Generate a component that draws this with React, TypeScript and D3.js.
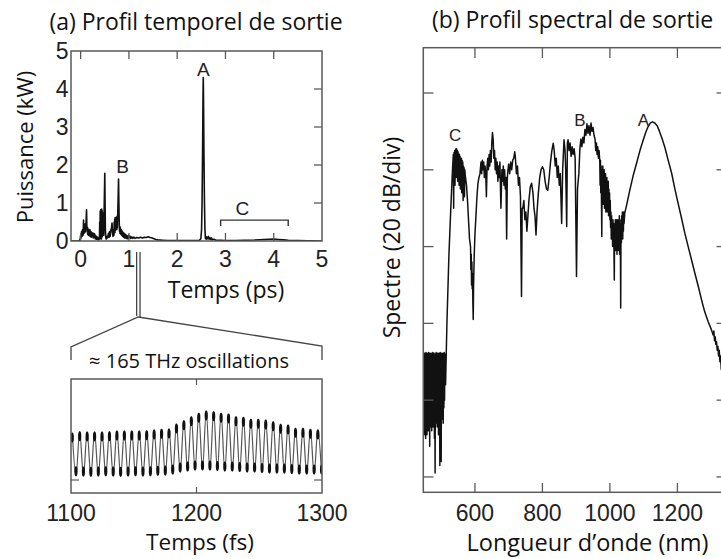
import React from 'react';
import * as d3 from 'd3';

// ---------- Panel (a): temporal profile (t in ps, P in kW) ----------
const temporalProfile: [number, number][] = [
  [-0.2, 0], [-0.03, 0], [-0.01, 0.05], [0.0, 0.15], [0.01, 0.08], [0.02, 0.25], [0.03, 0.12], [0.04, 0.3], [0.05, 0.15],
  [0.06, 0.55], [0.065, 0.2], [0.075, 0.38], [0.085, 0.22], [0.095, 0.45], [0.105, 0.25], [0.115, 0.6], [0.122, 0.82],
  [0.13, 0.3], [0.14, 0.36], [0.145, 0.18], [0.155, 0.32], [0.16, 0.15], [0.17, 0.28], [0.18, 0.14], [0.19, 0.3],
  [0.2, 0.12], [0.21, 0.25], [0.22, 0.1], [0.23, 0.22], [0.24, 0.12], [0.25, 0.2], [0.26, 0.08], [0.27, 0.2], [0.28, 0.1],
  [0.29, 0.18], [0.3, 0.06], [0.31, 0.14], [0.32, 0.05], [0.33, 0.12], [0.34, 0.04], [0.355, 0.1], [0.37, 0.03],
  [0.38, 0.08], [0.39, 0.05], [0.395, 0.5], [0.4, 0.1], [0.405, 0.78], [0.41, 0.06], [0.415, 0.82], [0.42, 0.08],
  [0.425, 0.8], [0.43, 0.05], [0.435, 0.84], [0.44, 0.1], [0.445, 0.8], [0.45, 0.12], [0.455, 0.75], [0.46, 0.2],
  [0.47, 0.55], [0.478, 0.15], [0.485, 0.7], [0.492, 1.2], [0.5, 1.78], [0.507, 0.9], [0.512, 0.3], [0.52, 0.1],
  [0.53, 0.05], [0.545, 0.12], [0.56, 0.08], [0.575, 0.2], [0.59, 0.1], [0.6, 0.25], [0.61, 0.12], [0.625, 0.28],
  [0.64, 0.35], [0.65, 0.47], [0.66, 0.2], [0.67, 0.12], [0.68, 0.3], [0.69, 0.15], [0.695, 0.5], [0.7, 0.25],
  [0.705, 0.58], [0.71, 0.22], [0.715, 0.62], [0.72, 0.28], [0.725, 0.6], [0.73, 0.3], [0.735, 0.62], [0.74, 0.35],
  [0.745, 0.58], [0.75, 0.3], [0.755, 0.65], [0.76, 0.35], [0.768, 0.7], [0.776, 1.1], [0.785, 1.63], [0.792, 1.0],
  [0.8, 0.45], [0.805, 0.25], [0.81, 0.38], [0.815, 0.2], [0.82, 0.36], [0.83, 0.18], [0.84, 0.3], [0.85, 0.15],
  [0.86, 0.26], [0.87, 0.12], [0.88, 0.22], [0.89, 0.1], [0.9, 0.2], [0.91, 0.08], [0.92, 0.18], [0.93, 0.08],
  [0.94, 0.16], [0.95, 0.07], [0.96, 0.14], [0.975, 0.06], [0.99, 0.15], [1.0, 0.08], [1.02, 0.13], [1.04, 0.07],
  [1.06, 0.11], [1.08, 0.07], [1.1, 0.1], [1.13, 0.07], [1.16, 0.09], [1.2, 0.08], [1.24, 0.1], [1.28, 0.08],
  [1.32, 0.1], [1.36, 0.09], [1.4, 0.11], [1.44, 0.09], [1.48, 0.08], [1.52, 0.06], [1.56, 0.04], [1.6, 0.03],
  [1.7, 0.02], [1.8, 0.01], [2.0, 0.01], [2.2, 0.01], [2.4, 0.01], [2.46, 0.02], [2.49, 0.06], [2.505, 0.3],
  [2.515, 1.0], [2.525, 2.2], [2.535, 3.8], [2.54, 4.3], [2.545, 3.8], [2.555, 2.2], [2.565, 1.0], [2.575, 0.3],
  [2.585, 0.06], [2.595, 0.12], [2.605, 0.05], [2.615, 0.1], [2.63, 0.06], [2.645, 0.12], [2.66, 0.05], [2.675, 0.09],
  [2.69, 0.04], [2.71, 0.08], [2.73, 0.03], [2.76, 0.05], [2.8, 0.02], [2.9, 0.02], [3.0, 0.01], [3.2, 0.015],
  [3.4, 0.02], [3.6, 0.025], [3.8, 0.04], [3.9, 0.045], [4.0, 0.05], [4.1, 0.04], [4.2, 0.03], [4.3, 0.02],
  [4.5, 0.01], [4.7, 0.005], [5.0, 0.0],
];
const timeTicks = [0, 1, 2, 3, 4, 5];
const innerTimeTicks = [0, 1, 2, 3, 4];
const powerTicks = [0, 1, 2, 3, 4, 5];
const innerPowerTicks = [1, 2, 3, 4];
const zoomWindowPs = [1.16, 1.23];
const labelsA = [
  { text: 'A', t: 2.54, p: 4.35 },
  { text: 'B', t: 0.87, p: 1.79 },
  { text: 'C', t: 3.35, p: 0.68 },
];
const bracketC = { t0: 2.9, t1: 4.3, p: 0.55 };

// ---------- Inset: ~165 THz oscillations (t in fs, arbitrary units) ----------
const insetStartFs = 1101;
const oscillationPeriodFs = 5.93;
const insetPeaks = [
  52.6, 53.8, 53.5, 53.5, 53.5, 53.8, 54.4, 54.4, 54.4, 54.4, 54.6, 55.3, 55.9, 56.1, 60.5, 63.4, 66.9,
  69.9, 71.9, 71.3, 69.9, 69.3, 66.9, 66.4, 64.6, 64.6, 64.0, 62.5, 60.2, 59.6, 56.7, 56.7, 55.9, 55.3,
];
const insetTroughs = [
  15.2, 14.9, 14.6, 14.9, 15.2, 14.9, 14.6, 14.9, 15.2, 14.9, 15.2, 15.5, 15.8, 16.7, 18.4, 19.3, 20.2,
  20.2, 20.2, 19.7, 19.3, 19.3, 18.9, 18.4, 18.4, 18.0, 17.5, 17.5, 17.5, 17.1, 16.7, 16.7, 16.7, 16.7,
];
const insetTicks = [1100, 1200, 1300];
const insetInnerTicks = [1200];
const insetLevelTick = [11.4];

// ---------- Panel (b): spectrum (nm, dB) ----------
const spectrum: [number, number][] = [
  [447, -67.5], [448, -86], [449, -68], [450, -89], [451, -67.8], [452, -84], [453, -68], [454, -90], [455, -67.6],
  [456, -87], [457, -68], [458, -89], [459, -67.8], [460, -85], [461, -68], [462, -88], [463, -67.6], [464, -86],
  [465, -68], [466, -92], [467, -67.8], [468, -87], [469, -68], [470, -85], [471, -67.8], [472, -88], [473, -68],
  [474, -84], [475, -67.6], [476, -87], [477, -68], [478, -85], [479, -67.8], [480, -90], [481, -68], [482, -99],
  [483, -68], [484, -86], [485, -67.6], [486, -84], [487, -68], [488, -87], [489, -67.8], [490, -85], [491, -68],
  [492, -89], [493, -67.8], [494, -84], [495, -68], [496, -97], [497, -67.6], [498, -86], [499, -68], [500, -96],
  [501, -67.8], [502, -85], [503, -68], [504, -83], [505, -67.8], [506, -86], [507, -68], [508, -82], [509, -67.6],
  [510, -80], [511, -68], [513, -76], [515, -68], [517, -60], [519, -54], [521, -48], [523, -42], [526, -35.5],
  [529, -29], [532, -23], [534, -19], [536, -16], [537, -30], [538, -15.5], [539, -22], [540, -15], [541, -24],
  [542, -14.8], [543, -20], [544, -14.5], [545, -22], [546, -14.6], [547, -19], [548, -15], [549, -23], [550, -15.3],
  [551, -20], [552, -15.8], [553, -24], [554, -16], [555, -21], [556, -16.5], [557, -25], [558, -17], [559, -22],
  [560, -17], [561, -26], [562, -17.5], [563, -22], [564, -18], [565, -28], [566, -19], [567, -23], [568, -19.5],
  [569, -27], [570, -20], [572, -22], [575, -24], [578, -28], [581, -33], [584, -38], [587, -40], [588, -46],
  [589, -42], [590, -50], [591, -44], [592, -51], [593, -47], [594, -55], [595, -59], [596, -50], [598, -42],
  [600, -37], [603, -32], [606, -27], [609, -23.5], [612, -22], [615, -21], [618, -18], [620, -21], [622, -17.5],
  [624, -20], [626, -18], [628, -22], [630, -19], [632, -21], [634, -27], [636, -19], [638, -17], [640, -20],
  [642, -16], [644, -19], [646, -15], [648, -18], [650, -13], [652, -10.3], [654, -12], [656, -17], [658, -15],
  [660, -20], [662, -17], [664, -21], [666, -18], [668, -23], [670, -19], [672, -22], [674, -18], [677, -30],
  [680, -20], [682, -23], [684, -19], [686, -24], [688, -20], [690, -25], [692, -22], [694, -38], [696, -22],
  [698, -20], [700, -18.5], [703, -21], [706, -18], [709, -20], [712, -17.5], [715, -17], [718, -15.3], [720, -17],
  [723, -21], [726, -19], [729, -24], [732, -22], [735, -27], [738, -53], [740, -30], [742, -30], [745, -28],
  [748, -33], [751, -31], [754, -36], [757, -32], [760, -28], [764, -24.5], [768, -23.5], [772, -26], [775, -30],
  [778, -32], [781, -37], [784, -31], [788, -26], [792, -22], [796, -20], [800, -19.2], [804, -20], [808, -23],
  [812, -25], [816, -25.3], [820, -22], [824, -18], [828, -15], [832, -13.1], [835, -15], [838, -19], [841, -17],
  [844, -22], [847, -19], [850, -24], [853, -21], [857, -34], [860, -20], [864, -12.2], [867, -15], [869, -20],
  [872, -34.8], [874, -13], [876, -12.2], [879, -15], [882, -13], [885, -16.5], [888, -14], [891, -16], [894, -14.5],
  [897, -17], [901, -47.8], [904, -25], [908, -21], [911, -14.5], [914, -12], [917, -14], [920, -11.5], [923, -13],
  [926, -9.5], [929, -11], [932, -8], [935, -10.5], [938, -8.5], [941, -11], [944, -7.8], [947, -10], [950, -9],
  [953, -11], [956, -12], [958, -15], [960, -13], [962, -16], [964, -14], [966, -17], [968, -15], [970, -18],
  [971, -24], [972, -17.5], [973, -26], [974, -19], [975, -28], [976, -37.4], [977, -20], [978, -27], [979, -19],
  [980, -29], [981, -21], [982, -27], [983, -20], [984, -30], [985, -22], [986, -28], [987, -21], [988, -31],
  [989, -23], [990, -29], [991, -22], [992, -31], [993, -24], [994, -30], [995, -23], [996, -32], [997, -25],
  [998, -31], [999, -26], [1000, -33], [1001, -28], [1002, -35], [1003, -31], [1004, -38], [1005, -32], [1006, -37],
  [1007, -33], [1008, -40], [1009, -33], [1010, -39], [1011, -34], [1012, -41], [1013, -48.7], [1014, -34],
  [1015, -40], [1016, -33], [1017, -41], [1018, -34], [1019, -39], [1020, -33], [1021, -42], [1022, -35], [1023, -40],
  [1024, -33], [1025, -41], [1026, -34], [1027, -39], [1028, -32], [1029, -42], [1030, -34], [1031, -38], [1032, -56],
  [1033, -33], [1034, -39], [1035, -32], [1036, -37], [1037, -31], [1038, -38], [1039, -32], [1040, -36], [1041, -31],
  [1042, -34], [1044, -31.3], [1050, -29], [1059, -25.3], [1069, -21.5], [1079, -18.3], [1089, -15], [1099, -12.2],
  [1106, -10.3], [1113, -8.8], [1120, -7.8], [1126, -7.5], [1133, -7.8], [1140, -8.5], [1147, -10], [1155, -12],
  [1163, -14.2], [1172, -17.3], [1183, -20.9], [1192, -24.8], [1202, -28.7], [1212, -32.5], [1222, -36.5],
  [1232, -40], [1242, -43.5], [1252, -47], [1262, -50.4], [1272, -54], [1281, -57], [1291, -59.5], [1301, -61.7],
  [1306, -63], [1308, -62], [1310, -64.5], [1312, -63.5], [1314, -65.5], [1316, -64.8], [1318, -67], [1320, -66],
  [1322, -68.5], [1324, -67], [1326, -70], [1328, -68.5], [1330, -72], [1335, -70], [1347, -72],
];
const wavelengthTicks = [600, 800, 1000, 1200, 1400];
const wavelengthLabels = [600, 800, 1000, 1200];
const dbTicks = [0, -20, -40, -60, -80, -100];
const labelsB = [
  { text: 'C', nm: 541, db: -12.6 },
  { text: 'B', nm: 911, db: -8.5 },
  { text: 'A', nm: 1099, db: -8.5 },
];

const FRAME = '#5a5a5a';
const INK = '#111';
const SANS = "'Open Sans', 'Noto Sans', sans-serif";
const HELV = "'Liberation Sans', Arial, sans-serif";

export default function App() {
  // Panel (a) scales
  const xA = d3.scaleLinear().domain([-0.2, 5]).range([71, 322]);
  const yA = d3.scaleLinear().domain([0, 5]).range([241, 51]);
  const lineA = d3.line<[number, number]>().x((d) => xA(d[0])).y((d) => yA(d[1]));

  // Inset scales
  const xI = d3.scaleLinear().domain([1100, 1300]).range([71, 322]);
  const yI = d3.scaleLinear().domain([0, 100]).range([493, 379]);
  const insetSeries: [number, number][] = [];
  insetPeaks.forEach((v, i) => {
    const t = insetStartFs + i * oscillationPeriodFs;
    insetSeries.push([t, v]);
    insetSeries.push([t + oscillationPeriodFs / 2, insetTroughs[i]]);
  });
  const lineI = d3
    .line<[number, number]>()
    .x((d) => xI(d[0]))
    .y((d) => yI(d[1]))
    .curve(d3.curveMonotoneX);

  // Panel (b) scales
  const xB = d3.scaleLinear().domain([447, 1347]).range([423.3, 727]);
  const yB = d3.scaleLinear().domain([-104, 11.8]).range([492.3, 47.7]);
  const lineB = d3.line<[number, number]>().x((d) => xB(d[0])).y((d) => yB(d[1]));

  const zx0 = xA(zoomWindowPs[0]);
  const zx1 = xA(zoomWindowPs[1]);
  const zMid = (zx0 + zx1) / 2;

  return (
    <svg
      width={721}
      height={559}
      viewBox="0 0 721 559"
      style={{ position: 'absolute', left: 0, top: 0, background: '#fff' }}
    >
      <defs>
        <clipPath id="clipA">
          <rect x={71} y={51} width={251} height={190} />
        </clipPath>
        <clipPath id="clipI">
          <rect x={71} y={379} width={251} height={114} />
        </clipPath>
        <clipPath id="clipB">
          <rect x={423.3} y={47.7} width={303.7} height={444.6} />
        </clipPath>
      </defs>
      <rect x={0} y={0} width={721} height={559} fill="#fff" />

      {/* ---------------- Panel (a) ---------------- */}
      <text x={196} y={30} textAnchor="middle" fontFamily={SANS} fontSize={23} fill={INK}>
        (a) Profil temporel de sortie
      </text>
      <g clipPath="url(#clipA)">
        <path d={lineA(temporalProfile) || ''} fill="none" stroke={INK} strokeWidth={1.6} strokeLinejoin="round" />
      </g>
      <rect x={71} y={51} width={251} height={190} fill="none" stroke={FRAME} strokeWidth={1.5} />
      {innerTimeTicks.map((t) => (
        <g key={'ta' + t}>
          <line x1={xA(t)} x2={xA(t)} y1={51} y2={59} stroke={FRAME} strokeWidth={1.3} />
          <line x1={xA(t)} x2={xA(t)} y1={241} y2={233} stroke={FRAME} strokeWidth={1.3} />
        </g>
      ))}
      {innerPowerTicks.map((p) => (
        <line key={'pa' + p} x1={322} x2={314} y1={yA(p)} y2={yA(p)} stroke={FRAME} strokeWidth={1.3} />
      ))}
      {timeTicks.map((t) => (
        <text key={'tl' + t} x={xA(t)} y={267} textAnchor="middle" fontFamily={HELV} fontSize={23} fill="#222">
          {t}
        </text>
      ))}
      {powerTicks.map((p) => (
        <text key={'pl' + p} x={68.5} y={yA(p) + 8} textAnchor="end" fontFamily={HELV} fontSize={23} fill="#222">
          {p}
        </text>
      ))}
      <text x={226} y={298} textAnchor="middle" fontFamily={SANS} fontSize={23} fill={INK}>
        Temps (ps)
      </text>
      <text
        transform="translate(33,147) rotate(-90)"
        textAnchor="middle"
        fontFamily={SANS}
        fontSize={22}
        fill={INK}
      >
        Puissance (kW)
      </text>
      {labelsA.map((l) => (
        <text key={l.text} x={xA(l.t)} y={yA(l.p)} textAnchor="middle" fontFamily={HELV} fontSize={19} fill="#222">
          {l.text}
        </text>
      ))}
      <path
        d={`M${xA(bracketC.t0)},${yA(bracketC.p) + 6} V${yA(bracketC.p)} H${xA(bracketC.t1)} V${yA(bracketC.p) + 6}`}
        fill="none"
        stroke="#333"
        strokeWidth={1.4}
      />

      {/* zoom connector */}
      <g stroke="#444" strokeWidth={1.3} fill="none">
        <line x1={zx0} x2={zx0} y1={252} y2={316} />
        <line x1={zx1} x2={zx1} y1={252} y2={318} />
        <polyline points={`${71},${360} ${71},${347} ${zMid},${317} ${322},${346} ${322},${360}`} />
      </g>
      <text x={189} y={368} textAnchor="middle" fontFamily={SANS} fontSize={20} fill={INK}>
        ≈ 165 THz oscillations
      </text>

      {/* ---------------- Inset ---------------- */}
      <g clipPath="url(#clipI)">
        <path d={lineI(insetSeries) || ''} fill="none" stroke="#555" strokeWidth={1.2} />
        {insetSeries.map((d, i) => (
          <ellipse
            key={'e' + i}
            cx={xI(d[0])}
            cy={yI(d[1]) + (i % 2 === 0 ? 4.5 : -4.5)}
            rx={1.6}
            ry={5}
            fill="#111"
          />
        ))}
      </g>
      <rect x={71} y={379} width={251} height={114} fill="none" stroke={FRAME} strokeWidth={1.5} />
      {insetInnerTicks.map((t) => (
        <g key={'it' + t}>
          <line x1={xI(t)} x2={xI(t)} y1={379} y2={385} stroke={FRAME} strokeWidth={1.2} />
          <line x1={xI(t)} x2={xI(t)} y1={493} y2={487} stroke={FRAME} strokeWidth={1.2} />
        </g>
      ))}
      {insetLevelTick.map((v) => (
        <g key={'il' + v}>
          <line x1={71} x2={79} y1={yI(v)} y2={yI(v)} stroke={FRAME} strokeWidth={1.2} />
          <line x1={322} x2={314} y1={yI(v)} y2={yI(v)} stroke={FRAME} strokeWidth={1.2} />
        </g>
      ))}
      {insetTicks.map((t) => (
        <text key={'itl' + t} x={xI(t)} y={521} textAnchor="middle" fontFamily={HELV} fontSize={23} fill="#222">
          {t}
        </text>
      ))}
      <text x={200} y={550} textAnchor="middle" fontFamily={SANS} fontSize={22.5} fill={INK}>
        Temps (fs)
      </text>

      {/* ---------------- Panel (b) ---------------- */}
      <text x={572.5} y={28} textAnchor="middle" fontFamily={SANS} fontSize={23} fill={INK}>
        (b) Profil spectral de sortie
      </text>
      <g clipPath="url(#clipB)">
        <path d={lineB(spectrum) || ''} fill="none" stroke={INK} strokeWidth={1.5} strokeLinejoin="round" />
      </g>
      <rect x={423.3} y={47.7} width={303.7} height={444.6} fill="none" stroke={FRAME} strokeWidth={1.5} />
      {wavelengthTicks.map((w) => (
        <g key={'wt' + w}>
          <line x1={xB(w)} x2={xB(w)} y1={47.7} y2={58} stroke={FRAME} strokeWidth={1.3} />
          <line x1={xB(w)} x2={xB(w)} y1={492.3} y2={483} stroke={FRAME} strokeWidth={1.3} />
        </g>
      ))}
      {dbTicks.map((v) => (
        <g key={'dt' + v}>
          <line x1={423.3} x2={433.5} y1={yB(v)} y2={yB(v)} stroke={FRAME} strokeWidth={1.3} />
          <line x1={727} x2={716.5} y1={yB(v)} y2={yB(v)} stroke={FRAME} strokeWidth={1.3} />
        </g>
      ))}
      {wavelengthLabels.map((w) => (
        <text key={'wl' + w} x={xB(w)} y={521} textAnchor="middle" fontFamily={HELV} fontSize={23} fill="#222">
          {w}
        </text>
      ))}
      <text x={587.5} y={551} textAnchor="middle" fontFamily={SANS} fontSize={23.5} fill={INK}>
        Longueur d’onde (nm)
      </text>
      <text
        transform="translate(400,237.5) rotate(-90)"
        textAnchor="middle"
        fontFamily={SANS}
        fontSize={23}
        fill={INK}
      >
        Spectre (20 dB/div)
      </text>
      {labelsB.map((l) => (
        <text key={'lb' + l.text} x={xB(l.nm)} y={yB(l.db)} textAnchor="middle" fontFamily={HELV} fontSize={17} fill="#222">
          {l.text}
        </text>
      ))}
    </svg>
  );
}
